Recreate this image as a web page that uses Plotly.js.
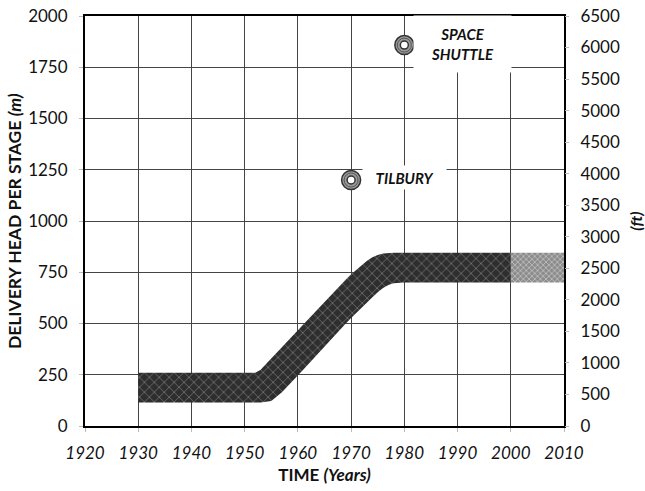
<!DOCTYPE html>
<html>
<head>
<meta charset="utf-8">
<script src="https://cdn.plot.ly/plotly-3.0.1.min.js"></script>
<style>html,body{margin:0;padding:0;background:#fff;}#chart{width:645px;height:491px;}</style>
</head>
<body>
<div id="chart"></div>
<script>
// Historical band (delivery head per stage, m)
const bandYears = [1930, 1952, 1953, 1955, 1957, 1961, 1965, 1969, 1970, 1971, 1972, 1973, 1974, 1975, 1976, 1977, 1978, 1980, 2000];
const bandUpper = [260, 260, 275, 330, 385, 500, 610, 715, 740, 762, 785, 806, 823, 834, 841, 844, 845, 845, 845];
const bandLower = [115, 115, 115, 122, 165, 275, 390, 500, 527, 553, 580, 605, 628, 652, 673, 688, 696, 700, 700];
// Projected band
const projYears = [2000, 2010];
const projUpper = [845, 845];
const projLower = [700, 700];
// Individual machines
const eventNames = ["SPACE<br>SHUTTLE", "TILBURY"];
const eventYears = [1980, 1970];
const eventHeads = [1858, 1200];
const labelYears = [1991, 1980];
const labelHeads = [1862, 1212];

const xTicks = [1920, 1930, 1940, 1950, 1960, 1970, 1980, 1990, 2000, 2010];
const yTicks = [0, 250, 500, 750, 1000, 1250, 1500, 1750, 2000];
const ftTicks = [0, 500, 1000, 1500, 2000, 2500, 3000, 3500, 4000, 4500, 5000, 5500, 6000, 6500];

const FONT = "Lato, 'Open Sans', sans-serif";

const traces = [
  {x: bandYears, y: bandLower, mode: 'lines', line: {width: 0}, hoverinfo: 'skip', showlegend: false},
  {x: bandYears, y: bandUpper, mode: 'lines', line: {width: 0}, fill: 'tonexty',
   fillcolor: '#333333',
   fillpattern: {shape: 'x', bgcolor: '#2e2e2e', fgcolor: '#7a7a7a', size: 7, solidity: 0.2},
   hoverinfo: 'skip', showlegend: false},
  {x: projYears, y: projLower, mode: 'lines', line: {width: 0}, hoverinfo: 'skip', showlegend: false},
  {x: projYears, y: projUpper, mode: 'lines', line: {width: 0}, fill: 'tonexty',
   fillcolor: '#9a9a9a',
   fillpattern: {shape: 'x', bgcolor: '#8c8c8c', fgcolor: '#cfcfcf', size: 4, solidity: 0.3},
   hoverinfo: 'skip', showlegend: false},
  {x: eventYears, y: eventHeads, mode: 'markers', showlegend: false,
   marker: {symbol: 'circle', size: 19, color: '#9a9a9a', line: {width: 1.5, color: '#333'}}},
  {x: eventYears, y: eventHeads, mode: 'markers', showlegend: false,
   marker: {symbol: 'circle-open', size: 14, color: '#555', line: {width: 1, color: '#555'}}},
  {x: eventYears, y: eventHeads, mode: 'markers', showlegend: false,
   marker: {symbol: 'circle', size: 8, color: '#ffffff', line: {width: 1.5, color: '#333'}}},
  {x: [1920, 2010], y: [0, 0], yaxis: 'y2', mode: 'lines', line: {width: 0}, hoverinfo: 'skip', showlegend: false}
];

const annotations = eventNames.map((t, i) => ({
  x: labelYears[i], y: labelHeads[i], xref: 'x', yref: 'y', text: '<b><i>' + t + '</i></b>',
  showarrow: false, bgcolor: '#ffffff', borderpad: 0,
  width: i === 0 ? 97 : 83, height: i === 0 ? 56 : 23,
  font: {family: FONT, size: 15, color: '#111'}, align: 'center'
}));
annotations.push({
  x: -0.148, y: 0.5, xref: 'paper', yref: 'paper', textangle: -90, showarrow: false,
  text: '<b>DELIVERY HEAD PER STAGE <i>(m)</i></b>',
  font: {family: FONT, size: 17.5, color: '#111'}, xanchor: 'center', yanchor: 'middle'
});

const layout = {
  width: 645, height: 491,
  margin: {l: 85, r: 81, t: 16, b: 65},
  paper_bgcolor: '#fff', plot_bgcolor: '#fff',
  font: {family: FONT, color: '#111'},
  xaxis: {
    range: [1920, 2010], tickvals: xTicks, ticktext: xTicks.map(String),
    showgrid: true, gridcolor: '#444', gridwidth: 1,
    showline: true, linecolor: '#000', linewidth: 2, mirror: true,
    ticks: 'outside', ticklen: 4, tickcolor: '#bbb', zeroline: false,
    ticklabelstandoff: 7,
    tickfont: {family: FONT, size: 17, style: 'italic', color: '#111'},
    title: {text: '<b>TIME <i>(Years)</i></b>', font: {family: FONT, size: 17, color: '#111'}, standoff: 7}
  },
  yaxis: {
    range: [0, 2000], tickvals: yTicks, ticktext: yTicks.map(String),
    showgrid: true, gridcolor: '#444', gridwidth: 1,
    showline: true, linecolor: '#000', linewidth: 2, mirror: true,
    ticks: 'outside', ticklen: 4, tickcolor: '#bbb', zeroline: false,
    ticklabelstandoff: 8,
    tickfont: {family: FONT, size: 17, color: '#111'}
  },
  yaxis2: {
    overlaying: 'y', side: 'right', range: [0, 6500], tickvals: ftTicks, ticktext: ftTicks.map(String),
    showgrid: false, zeroline: false, showline: false,
    ticks: 'outside', ticklen: 4, tickcolor: '#bbb', ticklabelstandoff: 8,
    tickfont: {family: FONT, size: 17, color: '#111'},
    title: {text: '<b><i>(ft)</i></b>', font: {family: FONT, size: 16, color: '#111'}, standoff: 14}
  },
  annotations: annotations
};

Plotly.newPlot('chart', traces, layout, {staticPlot: true, displayModeBar: false});
</script>
</body>
</html>
